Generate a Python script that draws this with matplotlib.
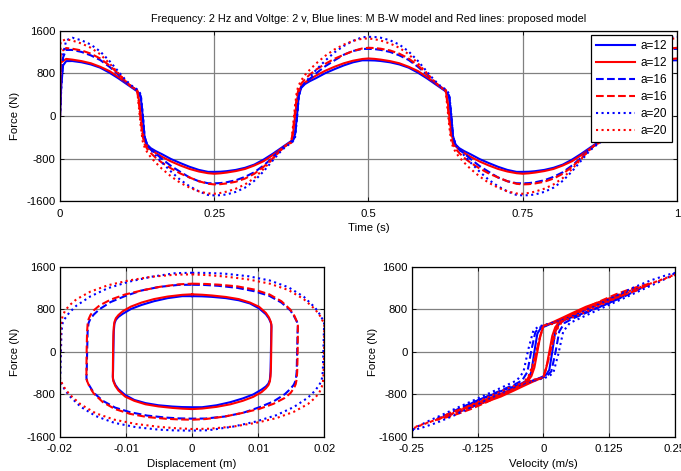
import numpy as np
import matplotlib as mpl
mpl.use('Agg')
import matplotlib.pyplot as plt

#######################################################################################
# Data
# Excitation: 2 Hz sine, amplitude a (mm)
freq = 2.0
amps = [12, 16, 20]

# Steady-state force over one half cycle (falling branch), s = time after velocity peak (s)
s_half = [0.000, 0.010, 0.020, 0.035, 0.050, 0.065, 0.080, 0.095, 0.105, 0.115, 0.120, 0.125,
          0.128, 0.131, 0.134, 0.137, 0.141, 0.147, 0.155, 0.165, 0.180, 0.195, 0.210, 0.225, 0.240]

# Blue: M B-W model
b12 = [1045, 1042, 1032, 1008, 968, 908, 815, 705, 625, 545, 505, 465,
       430, 340, 0, -380, -530, -600, -655, -712, -805, -880, -950, -1008, -1045]
b16 = [1260, 1255, 1240, 1202, 1138, 1052, 925, 775, 650, 560, 520, 480,
       450, 370, 30, -380, -540, -620, -700, -800, -935, -1045, -1150, -1220, -1258]
b20 = [1485, 1482, 1468, 1420, 1340, 1212, 1035, 830, 695, 580, 540, 500,
       470, 400, 50, -380, -540, -625, -735, -865, -1040, -1195, -1315, -1410, -1478]
# Red: proposed model
r12 = [1080, 1072, 1058, 1030, 990, 925, 845, 730, 645, 560, 520, 480,
       300, 0, -300, -460, -560, -630, -690, -760, -850, -925, -990, -1038, -1070]
r16 = [1280, 1275, 1262, 1230, 1170, 1080, 950, 790, 670, 560, 520, 490,
       230, -100, -380, -520, -610, -690, -780, -870, -980, -1075, -1150, -1220, -1268]
r20 = [1455, 1440, 1415, 1360, 1280, 1160, 990, 800, 670, 560, 520, 500,
       150, -200, -470, -580, -670, -770, -870, -985, -1130, -1250, -1340, -1410, -1450]

# First cycle starts from rest
t_start_blue = [0.0, 0.002, 0.005, 0.010]
b12_start = [0, 560, 950, 1030]
b16_start = [0, 620, 1100, 1240]
b20_start = [0, 500, 1150, 1420]
t_start_red = [0.0, 0.001]
r12_start = [0, 1000]
r16_start = [0, 1200]
r20_start = [0, 1400]

legend_labels = ['a=12', 'a=12', 'a=16', 'a=16', 'a=20', 'a=20']
title_text = 'Frequency: 2 Hz and Voltge: 2 v, Blue lines: M B-W model and Red lines: proposed model'

#######################################################################################
def time_series(half, t_st, f_st):
    s = np.array(s_half)
    f = np.array(half, dtype=float)
    t = np.concatenate([s + 0.25 * k for k in range(4)] + [[1.0]])
    F = np.concatenate([f * (-1) ** k for k in range(4)] + [[f[0]]])
    keep = t > t_st[-1]
    return np.concatenate([t_st, t[keep]]), np.concatenate([f_st, F[keep]])

def one_period(half, a):
    s = np.array(s_half)
    f = np.array(half, dtype=float)
    sl = np.concatenate([s, s + 0.25, [0.5]])
    Fl = np.concatenate([f, -f, [f[0]]])
    w = 2 * np.pi * freq
    x = a / 1000.0 * np.sin(w * sl)
    v = a / 1000.0 * w * np.cos(w * sl)
    return x, v, Fl

curves = [  # (half, start t, start F, amplitude, colour, style)
    (b12, t_start_blue, b12_start, 12, 'b', '-'),
    (r12, t_start_red, r12_start, 12, 'r', '-'),
    (b16, t_start_blue, b16_start, 16, 'b', '--'),
    (r16, t_start_red, r16_start, 16, 'r', '--'),
    (b20, t_start_blue, b20_start, 20, 'b', ':'),
    (r20, t_start_red, r20_start, 20, 'r', ':'),
]

#######################################################################################
plt.rcParams['font.family'] = ['Liberation Sans', 'DejaVu Sans']
plt.rcParams['font.size'] = 8.2

fig = plt.figure(figsize=(6.81, 4.71), dpi=100, facecolor='w')
ax1 = fig.add_axes([0.0881, 0.5722, 0.9060, 0.3626])
ax2 = fig.add_axes([0.0881, 0.0728, 0.3881, 0.3610])
ax3 = fig.add_axes([0.6045, 0.0728, 0.3867, 0.3610])

for (half, tst, fst, a, col, ls), lab in zip(curves, legend_labels):
    t, F = time_series(half, tst, fst)
    ax1.plot(t, F, color=col, linestyle=ls, linewidth=1.5, label=lab)
    x, v, Fl = one_period(half, a)
    ax2.plot(x, Fl, color=col, linestyle=ls, linewidth=1.5)
    ax3.plot(v, Fl, color=col, linestyle=ls, linewidth=1.5)

yt = [-1600, -800, 0, 800, 1600]
setups = [
    (ax1, [0, 0.25, 0.5, 0.75, 1], ['0', '0.25', '0.5', '0.75', '1'], 'Time (s)', 4.5),
    (ax2, [-0.02, -0.01, 0, 0.01, 0.02], ['-0.02', '-0.01', '0', '0.01', '0.02'], 'Displacement (m)', 4.5),
    (ax3, [-0.25, -0.125, 0, 0.125, 0.25], ['-0.25', '-0.125', '0', '0.125', '0.25'], 'Velocity (m/s)', 0),
]
for ax, xt, xl, xlab, ylpad in setups:
    ax.set_xlim(xt[0], xt[-1])
    ax.set_ylim(-1600, 1600)
    ax.set_xticks(xt)
    ax.set_xticklabels(xl)
    ax.set_yticks(yt)
    ax.set_yticklabels([str(v) for v in yt])
    ax.grid(True, color='#808080', linestyle='-', linewidth=0.9)
    ax.set_axisbelow(True)
    ax.tick_params(direction='in', length=3, width=0.6, top=True, right=True)
    ax.tick_params(axis='x', pad=5.5)
    ax.tick_params(axis='y', pad=3)
    ax.set_xlabel(xlab, labelpad=3)
    ax.set_ylabel('Force (N)', labelpad=ylpad)
    for sp in ax.spines.values():
        sp.set_linewidth(0.9)

ax1.set_title(title_text, fontsize=7.8, pad=6)
leg = ax1.legend(loc='upper right', fancybox=False, edgecolor='k', framealpha=1,
                 borderaxespad=0.4, handlelength=3.3, handletextpad=0.5,
                 labelspacing=0.42, fontsize=8.5)
leg.get_frame().set_linewidth(0.9)

plt.savefig('out.png', dpi=100)
